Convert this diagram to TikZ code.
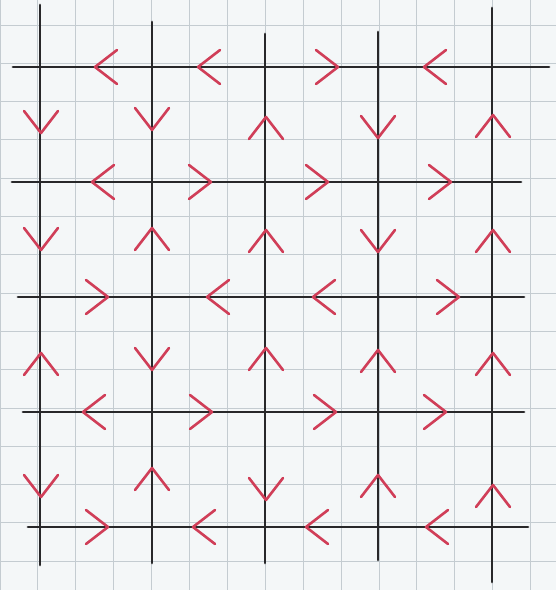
\documentclass[tikz,border=0pt]{standalone}
\usepackage{tikz}
\definecolor{paper}{RGB}{244,247,248}
\definecolor{gridc}{RGB}{196,204,209}
\definecolor{ink}{RGB}{40,40,42}
\definecolor{redink}{RGB}{208,62,88}
\tikzset{
  gridline/.style={draw=gridc, line width=0.9pt},
  blackline/.style={draw=ink, line width=2.8pt, line cap=round},
  redchev/.style={draw=redink, line width=2.6pt, line cap=round, line join=round},
  chevL/.pic={\draw[redchev] (22,-17) -- (0,0) -- (22,17);},
  chevR/.pic={\draw[redchev] (-22,-17) -- (0,0) -- (-22,17);},
  chevU/.pic={\draw[redchev] (-17,22) -- (0,0) -- (17,22);},
  chevD/.pic={\draw[redchev] (-17,-22) -- (0,0) -- (17,-22);}
}
\begin{document}
\begin{tikzpicture}[x=1pt,y=-1pt]
\useasboundingbox (0,0) rectangle (556,590);
\fill[paper] (0,0) rectangle (556,590);
% graph paper
\foreach \k in {0,...,14} {
  \draw[gridline] ({37.9*\k},0) -- ({37.9*\k},590);
  \draw[gridline] (0,{25+38.3*\k}) -- (556,{25+38.3*\k});
}
% black lattice lines
\foreach \n/\x/\ya/\yb in {c1/40/5/565, c2/152/22/563, c3/265/34/563, c4/378/32/560, c5/492/8/582} {
  \coordinate (\n t) at (\x,\ya);
  \coordinate (\n b) at (\x,\yb);
  \draw[blackline] (\n t) -- (\n b);
}
\foreach \n/\y/\xa/\xb in {r1/67/13/549, r2/182/12/521, r3/297/18/524, r4/412/23/524, r5/527/28/528} {
  \coordinate (\n l) at (\xa,\y);
  \coordinate (\n r) at (\xb,\y);
  \draw[blackline] (\n l) -- (\n r);
}
% horizontal chevrons
\foreach \x/\d in {95/L,198/L,338/R,424/L} \pic at (\x,67) {chev\d};
\foreach \x/\d in {92/L,211/R,328/R,451/R} \pic at (\x,182) {chev\d};
\foreach \x/\d in {108/R,207/L,313/L,459/R} \pic at (\x,297) {chev\d};
\foreach \x/\d in {83/L,212/R,336/R,446/R} \pic at (\x,412) {chev\d};
\foreach \x/\d in {108/R,193/L,306/L,426/L} \pic at (\x,527) {chev\d};
% vertical chevrons
\foreach \y/\d in {133/D,250/D,353/U,497/D} \pic at (41,\y) {chev\d};
\foreach \y/\d in {130/D,228/U,370/D,468/U} \pic at (152,\y) {chev\d};
\foreach \y/\d in {117/U,230/U,348/U,500/D} \pic at (266,\y) {chev\d};
\foreach \y/\d in {138/D,252/D,350/U,475/U} \pic at (378,\y) {chev\d};
\foreach \y/\d in {115/U,230/U,353/U,485/U} \pic at (493,\y) {chev\d};
\end{tikzpicture}
\end{document}
